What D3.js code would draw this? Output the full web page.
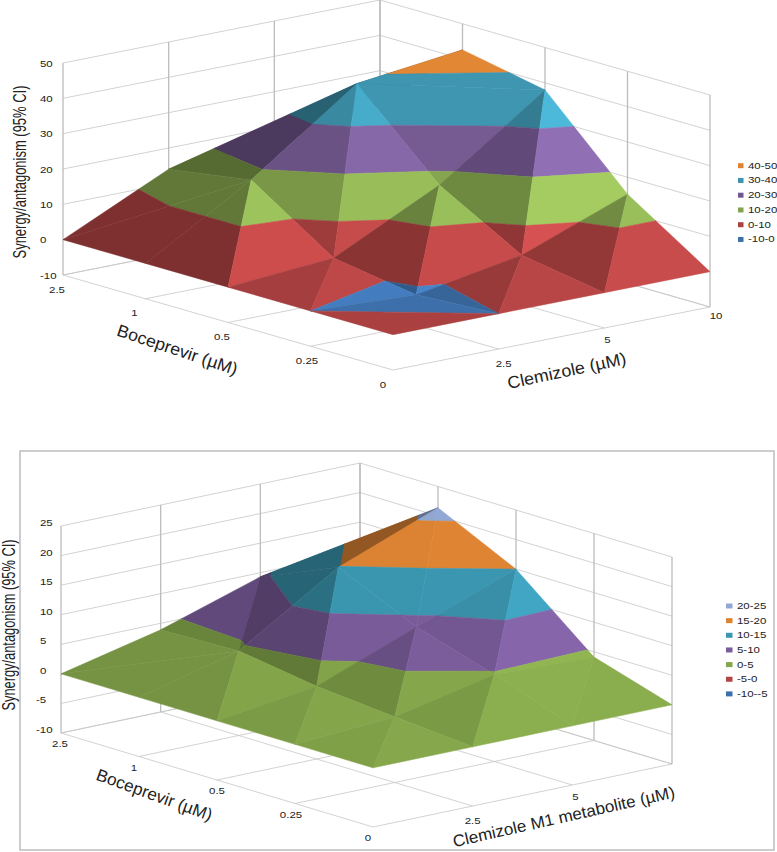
<!DOCTYPE html>
<html><head><meta charset="utf-8">
<script src="https://cdn.jsdelivr.net/npm/d3@7/dist/d3.min.js"></script>
<style>html,body{margin:0;padding:0;background:#fff}svg{display:block}text{font-family:"Liberation Sans",Arial,sans-serif;fill:#222}</style>
</head><body><svg id="c" width="777" height="852"></svg>
<script>
// Row = Boceprevir, front to back. Column = Clemizole, left to right.
const bocLabels = ["0","0.25","0.5","1","2.5"];
const clemLabelsA = ["0","2.5","5","10"];
const clemLabelsB = ["0","2.5","5",""];
const zTicksA = [-10,0,10,20,30,40,50];
const zTicksB = [-10,-5,0,5,10,15,20,25];
const surfaceA = [
  [0, 0, 0, 0],
  [0, -1.4, 3.9, 15.2],
  [0, 2.3, 17, 38],
  [0, 17.7, 39, 42.6],
  [0, 14, 15, 20]
];
const surfaceB = [
  [0, 0, 0, 0],
  [0, 1.1, 4.7, 4.1],
  [0, 2.3, 8.8, 15],
  [0, 4.3, 14.9, 21.4],
  [0, 3.9, 9.3, 8]
];
// Which diagonal splits each cell: 0 joins (i,j)-(i+1,j+1), 1 joins (i+1,j)-(i,j+1)
const diagonalsA = [[1,0,0],[0,0,0],[0,0,1],[1,1,1]];
const diagonalsB = [[0,0,0],[0,0,0],[0,0,0],[1,0,1]];
const legendA = ["40-50","30-40","20-30","10-20","0-10","-10-0"];
const legendB = ["20-25","15-20","10-15","5-10","0-5","-5-0","-10--5"];
const colorsA = ["#dd8433","#3d93ad","#73588f","#82a24c","#aa4040","#3d70ab"];
const colorsB = ["#92a9d4","#dd8433","#3b97b1","#7a5c9b","#84a54a","#b34441","#3d70ab"];

const svg = d3.select("#c");

function clip(poly, level, keepAbove){
  const out = [];
  poly.forEach((p,k)=>{
    const q = poly[(k+1)%poly.length];
    const pIn = keepAbove ? p[2]>=level : p[2]<=level;
    const qIn = keepAbove ? q[2]>=level : q[2]<=level;
    if(pIn) out.push(p);
    if(pIn!==qIn){
      const t=(level-p[2])/(q[2]-p[2]);
      out.push([p[0]+t*(q[0]-p[0]),p[1]+t*(q[1]-p[1]),level]);
    }
  });
  return out;
}

function drawChart(c){
  const g = svg.append("g");
  const n = c.surface.length-1, m = c.surface[0].length-1;
  const xi=d3.scaleLinear([0,n],[0,c.left[0]-c.front[0]]), yi=d3.scaleLinear([0,n],[0,c.left[1]-c.front[1]]);
  const xj=d3.scaleLinear([0,m],[0,c.right[0]-c.front[0]]), yj=d3.scaleLinear([0,m],[0,c.right[1]-c.front[1]]);
  const zs=d3.extent(c.zTicks);
  const yz=d3.scaleLinear(zs,[0,-c.height]);
  const P=(i,j,z)=>[c.front[0]+xi(i)+xj(j), c.front[1]+yi(i)+yj(j)+yz(z)];
  const line=d3.line();
  const grid=(a,b,w,col)=>g.append("path").attr("d",line([a,b])).attr("fill","none").attr("stroke",col||"#c6c6c6").attr("stroke-width",w||0.8);
  c.zTicks.forEach(z=>{ grid(P(n,0,z),P(n,m,z)); grid(P(n,m,z),P(0,m,z)); });
  d3.range(m+1).forEach(j=>{ grid(P(n,j,zs[0]),P(n,j,zs[1]),1.3,"#bcbcbc"); grid(P(0,j,zs[0]),P(n,j,zs[0])); });
  d3.range(n+1).forEach(i=>{ grid(P(i,m,zs[0]),P(i,m,zs[1]),1.3,"#bcbcbc"); grid(P(i,0,zs[0]),P(i,m,zs[0])); });
  const tris=[];
  d3.range(n).forEach(i=>d3.range(m).forEach(j=>{
    const N=(a,b)=>[a,b,c.surface[a][b]];
    if(c.diagonals[i][j]===0){
      tris.push([N(i,j),N(i+1,j),N(i+1,j+1)],[N(i,j),N(i+1,j+1),N(i,j+1)]);
    }else{
      tris.push([N(i,j),N(i+1,j),N(i,j+1)],[N(i+1,j),N(i+1,j+1),N(i,j+1)]);
    }
  }));
  tris.sort((a,b)=>d3.sum(b,p=>p[0]+p[1])-d3.sum(a,p=>p[0]+p[1]));
  const shade=d3.scaleLinear(c.shadeIn,c.shadeOut).clamp(true);
  const bands=c.legend.map((s,k)=>({color:c.colors[k],hi:c.zBandTop-k*c.zBandStep,lo:c.zBandTop-(k+1)*c.zBandStep}));
  tris.forEach(t=>{
    const u=[t[1][0]-t[0][0],t[1][1]-t[0][1],t[1][2]-t[0][2]], v=[t[2][0]-t[0][0],t[2][1]-t[0][1],t[2][2]-t[0][2]];
    const nx=u[1]*v[2]-u[2]*v[1], ny=u[2]*v[0]-u[0]*v[2], nz=u[0]*v[1]-u[1]*v[0];
    const a=-nx/nz, b=-ny/nz;
    const k=shade(a-b);
    bands.forEach(bd=>{
      const poly=clip(clip(t,bd.lo,true),bd.hi,false);
      if(poly.length<3) return;
      if(poly.every(p=>p[2]===bd.hi)) return;
      const pts=poly.map(p=>P(p[0],p[1],p[2]));
      if(Math.abs(d3.polygonArea(pts))<0.05) return;
      const col=d3.rgb(bd.color);
      const fill=d3.rgb(Math.min(255,col.r*k),Math.min(255,col.g*k),Math.min(255,col.b*k)).formatHex();
      g.append("path").attr("d",line(pts)+"Z").attr("fill",fill).attr("stroke",fill).attr("stroke-width",0.5).attr("stroke-linejoin","round");
    });
  });
  const stretch=(sel,xf,yf)=>sel.attr("transform",(d,i)=>`translate(${xf(d,i)},${yf(d,i)}) scale(1.35,1)`)
      .attr("font-size",8.5);
  stretch(g.selectAll(null).data(c.zTicks).join("text").text(d=>d),
    d=>c.zLabelX-(d<0?c.negShift:0), d=>P(n,0,d)[1]+c.zLabelDy);
  stretch(g.selectAll(null).data(bocLabels).join("text").attr("text-anchor","middle").text(d=>d),
    (d,i)=>P(i,0,zs[0])[0]+c.bocDx[i], (d,i)=>P(i,0,zs[0])[1]+c.bocDy);
  stretch(g.selectAll(null).data(c.clemLabels.slice(1)).join("text").attr("text-anchor","middle").text(d=>d),
    (d,i)=>P(0,i+1,zs[0])[0]+c.clemDx[i], (d,i)=>P(0,i+1,zs[0])[1]+17.5-2.6*i);
  c.titles.forEach(t=>{
    g.append("text").attr("transform",`translate(${t.x},${t.y}) rotate(${t.r})`)
     .attr("text-anchor","middle").attr("dominant-baseline","middle").attr("font-size",t.s)
     .attr("textLength",t.len).attr("lengthAdjust","spacingAndGlyphs").text(t.text);
  });
  const leg=g.selectAll(null).data(c.legend).join("g").attr("transform",(d,k)=>`translate(${c.legX},${c.legY+k*c.legStep})`);
  leg.append("rect").attr("x",0).attr("y",-2.5).attr("width",c.swatch).attr("height",5).attr("fill",(d,k)=>c.colors[k]);
  leg.append("text").attr("transform",`translate(${c.swatch+4.5},3) scale(1.35,1)`).attr("font-size",8.5).text(d=>d);
}

drawChart({surface:surfaceA,diagonals:diagonalsA,zTicks:zTicksA,clemLabels:clemLabelsA,legend:legendA,colors:colorsA,zBandTop:50,zBandStep:10,
  front:[393,370],left:[63,275],right:[710,307],height:212,zLabelX:40,zLabelDy:3.5,negShift:0,
  bocDx:[-10,-3.5,-6,-11,-6],bocDy:17.5,clemDx:[5,3,6],
  shadeIn:[-25,-18,-8,-6,0,7,11.5,14,30],shadeOut:[0.66,0.74,0.84,0.93,1,1.16,1.26,1.18,1.18],
  titles:[
   {text:"Synergy/antagonism (95% CI)",x:21,y:172,r:-90,s:18,len:173},
   {text:"Boceprevir (µM)",x:177,y:351,r:18.4,s:17,len:126},
   {text:"Clemizole (µM)",x:567,y:372,r:-12,s:17,len:121}],
  legX:738,legY:165.7,legStep:14.75,swatch:5.5});

svg.append("rect").attr("x",20).attr("y",451).attr("width",754).attr("height",399).attr("fill","none").attr("stroke","#bdbdbd").attr("stroke-width",1.5);

drawChart({surface:surfaceB,diagonals:diagonalsB,zTicks:zTicksB,clemLabels:clemLabelsB,legend:legendB,colors:colorsB,zBandTop:25,zBandStep:5,
  front:[373,827],left:[61,733],right:[672,764],height:207,zLabelX:40,zLabelDy:0,negShift:4,
  bocDx:[-5,-4,0,-5,-1],bocDy:14,clemDx:[0,3,0],
  shadeIn:[-12,-8,-6,-5,0,5,15],shadeOut:[0.66,0.75,0.78,0.87,1,1.06,1.12],
  titles:[
   {text:"Synergy/antagonism (95% CI)",x:10,y:625,r:-90,s:18,len:171},
   {text:"Boceprevir (µM)",x:154,y:796,r:19.9,s:17,len:122},
   {text:"Clemizole M1 metabolite (µM)",x:564,y:818,r:-12.7,s:16.5,len:227}],
  legX:726,legY:606,legStep:14.65,swatch:6.5});
</script></body></html>
